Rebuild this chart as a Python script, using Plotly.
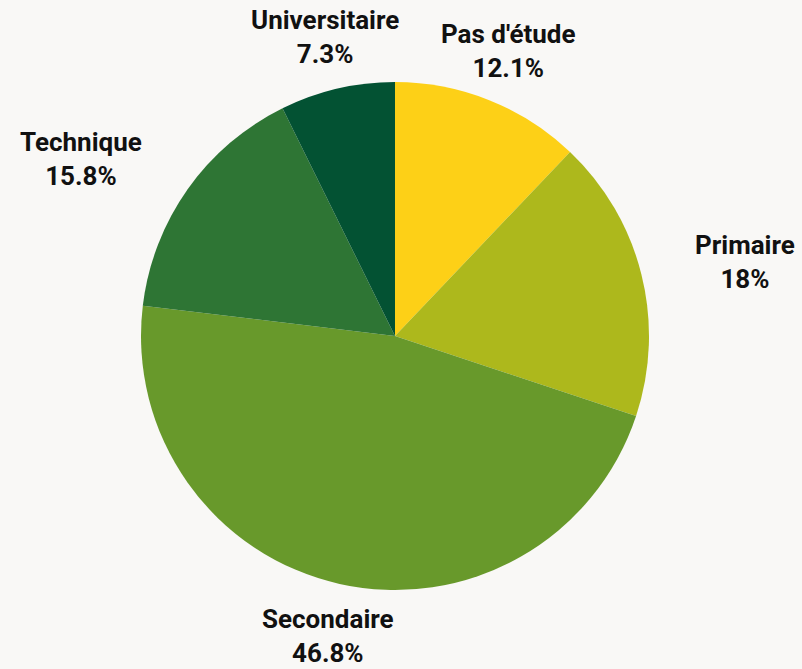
import math
import plotly.graph_objects as go

labels = ["Pas d'étude", "Primaire", "Secondaire", "Technique", "Universitaire"]
values = [12.1, 18.0, 46.8, 15.8, 7.3]
colors = ["#fdd017", "#adb81c", "#68992b", "#2e7534", "#035233"]

W, H = 802, 669
cx, cy, r = 395, 336, 254
r_lab = 307  # radius at which the label blocks sit

fig = go.Figure(go.Pie(
    labels=labels,
    values=values,
    sort=False,
    direction="clockwise",
    rotation=0,
    marker=dict(colors=colors, line=dict(width=0)),
    textinfo="none",
    showlegend=False,
    automargin=False,
    domain=dict(x=[(cx - r) / W, (cx + r) / W], y=[(H - cy - r) / H, (H - cy + r) / H]),
    hoverinfo="label+percent",
))

# outside labels, placed along each slice's mid-angle (derived from the data)
total = sum(values)
cum = 0.0
annotations = []
for lab, v in zip(labels, values):
    mid = (cum + v / 2) / total * 2 * math.pi
    cum += v
    s, c = math.sin(mid), math.cos(mid)
    px = cx + r_lab * s
    py = cy - r_lab * c
    pct = round(v / total * 100, 1)
    if abs(s) > 0.7:
        xanchor = "left" if s > 0 else "right"
    else:
        xanchor = "center"
    annotations.append(dict(
        x=px / W, y=(H - py) / H, xref="paper", yref="paper",
        text=f"{lab}<br>{pct:g}%",
        showarrow=False, xanchor=xanchor, yanchor="middle", align="center",
        font=dict(family="Roboto", size=26, color="#111111", weight=700),
    ))

fig.update_layout(
    width=W, height=H,
    margin=dict(l=0, r=0, t=0, b=0),
    paper_bgcolor="#f9f8f6",
    plot_bgcolor="#f9f8f6",
    annotations=annotations,
)

fig.write_html("out.html")
